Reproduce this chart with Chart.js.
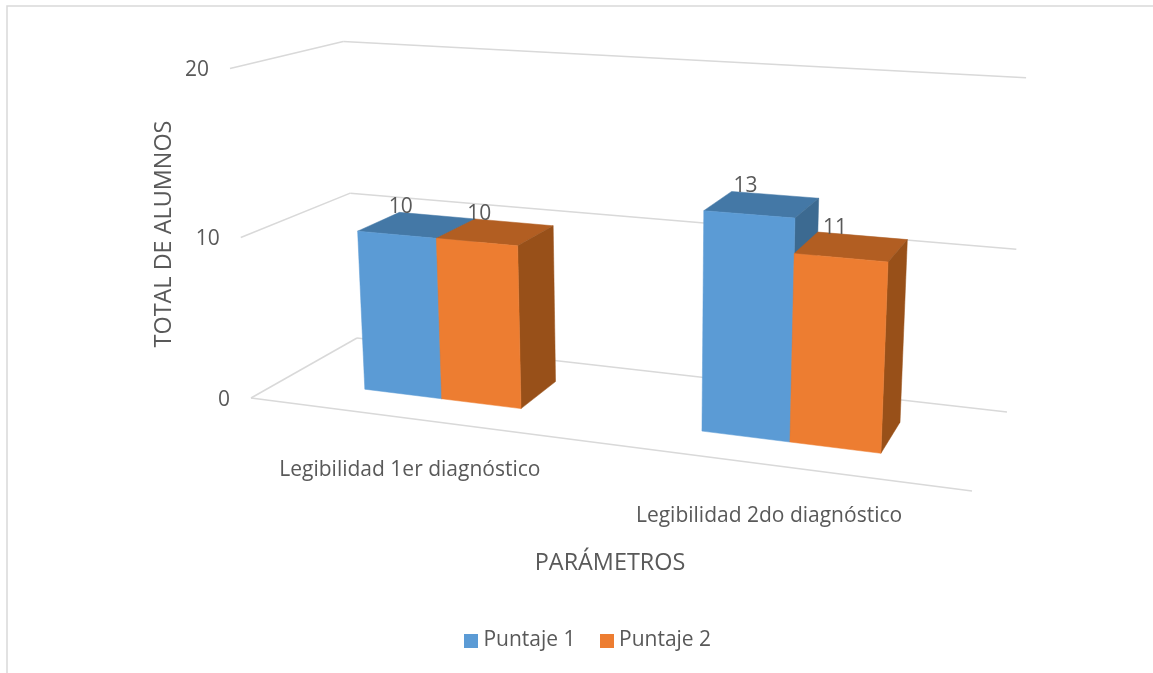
<!DOCTYPE html>
<html lang="es">
  <head>
    <meta charset="UTF-8" />
    <title>Legibilidad</title>
    <script src="https://cdn.jsdelivr.net/npm/chart.js"></script>
    <style>
      html, body { margin: 0; padding: 0; background: #fff; overflow: hidden; }
      canvas { display: block; }
    </style>
  </head>
  <body>
    <canvas id="chart" width="1153" height="673"></canvas>
    <script>
      const categories = ["Legibilidad 1er diagnóstico", "Legibilidad 2do diagnóstico"];
      const seriesNames = ["Puntaje 1", "Puntaje 2"];
      const puntaje1 = [10, 13];
      const puntaje2 = [10, 11];
      const yTicks = [0, 10, 20];
      const yTitle = "TOTAL DE ALUMNOS";
      const xTitle = "PARÁMETROS";

      const textColor = "#595959";
      const gridColor = "#d9d9d9";
      const fontName = "'Open Sans', sans-serif";
      // front, top, side colour of each series
      const faces = [
        ["#5b9bd5", "#4478a6", "#3c6a91"],
        ["#ed7d31", "#b25e22", "#985019"],
      ];
      const depth = [0.29, 0.7];

      // perspective of the box: x and z go 0..1 across and into the floor, t is 0..1 up the value axis
      function project(x, z, t) {
        const w = 1 - 0.1316 * x + 0.1163 * z - 0.05 * t;
        return [
          (251 + 593.1 * x + 147.5 * z - 32.5 * t) / w,
          (398 + 28.4 * x - 20.7 * z - 333 * t) / w,
        ];
      }

      function polygon(ctx, pts, color) {
        ctx.beginPath();
        pts.forEach((p, i) => (i ? ctx.lineTo(p[0], p[1]) : ctx.moveTo(p[0], p[1])));
        ctx.closePath();
        ctx.fillStyle = color;
        ctx.fill();
        ctx.strokeStyle = color;
        ctx.lineWidth = 0.5;
        ctx.stroke();
      }

      function line(ctx, a, b) {
        ctx.beginPath();
        ctx.moveTo(a[0], a[1]);
        ctx.lineTo(b[0], b[1]);
        ctx.stroke();
      }

      function label(ctx, text, x, y, size, align) {
        ctx.font = size + "px " + fontName;
        ctx.fillStyle = textColor;
        ctx.textAlign = align || "center";
        ctx.textBaseline = "middle";
        ctx.fillText(text, x, y + 2);
      }

      // legend squares sit closer to their text than Chart.js boxes do, so they are drawn as point images
      function swatch(color) {
        const c = document.createElement("canvas");
        c.width = 14;
        c.height = 14;
        const g = c.getContext("2d");
        g.fillStyle = color;
        g.fillRect(0, 0, 14, 14);
        return c;
      }

      const box3d = {
        id: "box3d",
        beforeDatasetsDraw(chart) {
          const ctx = chart.ctx;
          const area = chart.chartArea;
          const yScale = chart.scales.y;
          const xScale = chart.scales.x;
          const toX = (px) => (px - area.left) / (area.right - area.left);
          const toT = (v) => (v - yScale.min) / (yScale.max - yScale.min);

          ctx.save();
          // frame of the chart
          ctx.strokeStyle = gridColor;
          ctx.lineWidth = 1.5;
          ctx.beginPath();
          ctx.moveTo(7, 673);
          ctx.lineTo(7, 6);
          ctx.lineTo(1153, 6);
          ctx.stroke();

          // walls and floor
          yScale.ticks.forEach((tick) => {
            const t = toT(tick.value);
            line(ctx, project(0, 0, t), project(0, 1, t));
            line(ctx, project(0, 1, t), project(1, 1, t));
            const p = project(0, 0, t);
            label(ctx, String(tick.value), p[0] - 21, p[1], 21, "right");
          });
          line(ctx, project(0, 0, 0), project(1, 0, 0));

          // bars
          chart.data.datasets.forEach((ds, d) => {
            chart.getDatasetMeta(d).data.forEach((bar) => {
              const x0 = toX(bar.x - bar.width / 2);
              const x1 = toX(bar.x + bar.width / 2);
              const t = toT(yScale.getValueForPixel(bar.y));
              const [z0, z1] = depth;
              polygon(ctx, [project(x0, z0, t), project(x1, z0, t), project(x1, z1, t), project(x0, z1, t)], faces[d][1]);
              polygon(ctx, [project(x1, z0, 0), project(x1, z1, 0), project(x1, z1, t), project(x1, z0, t)], faces[d][2]);
              polygon(ctx, [project(x0, z0, 0), project(x1, z0, 0), project(x1, z0, t), project(x0, z0, t)], faces[d][0]);
            });
          });

          // value labels above the bars
          chart.data.datasets.forEach((ds, d) => {
            chart.getDatasetMeta(d).data.forEach((bar, i) => {
              const t = toT(ds.data[i]);
              const p = project(toX(bar.x), 0.5, t);
              label(ctx, String(ds.data[i]), p[0] - 17, p[1] - 20, 21);
            });
          });

          // category labels under the floor
          categories.forEach((name, i) => {
            const p = project(toX(xScale.getPixelForValue(i)), 0, 0);
            label(ctx, name, p[0] - 3, p[1] + 49, 21);
          });

          // axis titles
          label(ctx, xTitle, 610, 561, 23.4);
          ctx.translate(162, 234);
          ctx.rotate(-Math.PI / 2);
          label(ctx, yTitle, 0, 0, 23.4);
          ctx.restore();
          return false;
        },
      };

      new Chart(document.getElementById("chart"), {
        type: "bar",
        data: {
          labels: categories,
          datasets: [
            { label: seriesNames[0], data: puntaje1, backgroundColor: faces[0][0] },
            { label: seriesNames[1], data: puntaje2, backgroundColor: faces[1][0] },
          ],
        },
        options: {
          responsive: false,
          animation: false,
          categoryPercentage: 0.48,
          barPercentage: 1,
          layout: { padding: { left: 28, bottom: 12 } },
          scales: {
            x: { display: false },
            y: { display: false, min: 0, max: 20, afterBuildTicks: (s) => { s.ticks = yTicks.map((v) => ({ value: v })); } },
          },
          plugins: {
            title: { display: false },
            tooltip: { enabled: false },
            legend: {
              position: "bottom",
              labels: {
                usePointStyle: true,
                boxWidth: 3,
                boxHeight: 14,
                padding: 30,
                color: textColor,
                font: { size: 21, family: fontName },
                generateLabels: (chart) =>
                  Chart.defaults.plugins.legend.labels.generateLabels(chart).map((item, i) => ({
                    ...item,
                    pointStyle: swatch(faces[i][0]),
                  })),
              },
            },
          },
        },
        plugins: [box3d],
      });
    </script>
  </body>
</html>
